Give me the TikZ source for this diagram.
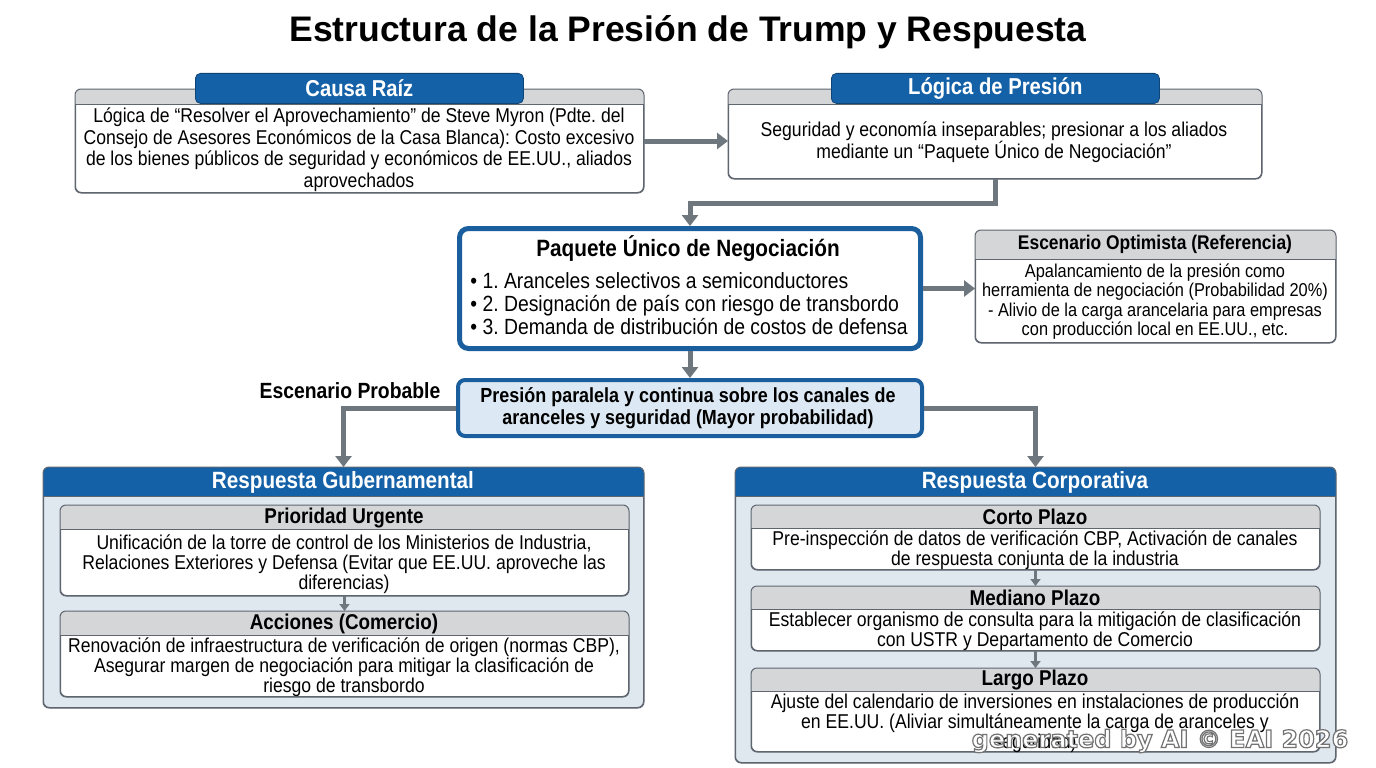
\documentclass[tikz,border=0pt]{standalone}
\usepackage{fontspec}
\setmainfont[FakeStretch=0.88]{Liberation Sans}
\newfontfamily\titlefont{Liberation Sans}
\newfontfamily\wmfont{DejaVu Sans}
\usetikzlibrary{arrows.meta}
\definecolor{hblue}{HTML}{1461A8}
\definecolor{bblue}{HTML}{1A5E9E}
\definecolor{agray}{HTML}{6E767E}
\definecolor{hgray}{HTML}{D5D6D8}
\definecolor{cfill}{HTML}{DFE7EF}
\definecolor{pfill}{HTML}{DCE8F3}
\definecolor{edgec}{HTML}{5F6670}
\newcommand\mkbox[6]{\node[frame, minimum width=#4pt, minimum height=#5pt, #6] (#1) at (#2,#3) {};}
\newcommand\hdrband[3]{%
  \begin{scope}\clip[rounded corners=6pt] (#1.north west) rectangle (#1.south east);
  \fill[#3] (#1.north west) rectangle ([yshift=-#2pt]#1.north east);\end{scope}
  \draw[edgec, line width=.6pt] ([yshift=-#2pt]#1.north west) -- ([yshift=-#2pt]#1.north east);
  \draw[edgec, line width=1pt, rounded corners=6pt] (#1.north west) rectangle (#1.south east);}
\begin{document}
\frenchspacing
\begin{tikzpicture}[x=1pt,y=-1pt,
  frame/.style={draw=edgec, line width=1pt, rounded corners=6pt, inner sep=0pt, anchor=north west, fill=white},
  tab/.style={fill=hblue, draw=hblue!70!black, line width=.8pt, rounded corners=5pt, text=white, inner sep=0pt, anchor=north west, font=\fontsize{23}{26}\bfseries\selectfont},
  arr/.style={draw=agray, line width=5pt, -{Triangle[length=11pt,width=16pt]}},
  sarr/.style={draw=agray, line width=3pt, -{Triangle[length=7pt,width=10pt]}},
  bodyA/.style={font=\fontsize{20}{21.5}\selectfont, align=center, inner sep=0pt},
  bodyS/.style={font=\fontsize{18.6}{19.5}\selectfont, align=center, inner sep=0pt},
  bodyG/.style={font=\fontsize{20}{20}\selectfont, align=center, inner sep=0pt},
  hdrW/.style={font=\fontsize{23.5}{26}\bfseries\selectfont, text=white, inner sep=0pt},
  hdrK/.style={font=\fontsize{21.4}{24}\bfseries\selectfont, inner sep=0pt},
]
\useasboundingbox (0,0) rectangle (1376,768);
\fill[white] (0,0) rectangle (1376,768);

% title
\node[font=\titlefont\fontsize{35.5}{40}\bfseries\selectfont] (title) at (688,32) {Estructura de la Presión de Trump y Respuesta};

% Causa raiz
\mkbox{causa}{75}{89}{568}{103}{}
\hdrband{causa}{15}{hgray}
\node[tab, minimum width=328pt, minimum height=30pt] (causaTab) at (195,73) {Causa Raíz};
\node[bodyA] (causaT) at (359,149.5) {Lógica de “Resolver el Aprovechamiento” de Steve Myron (Pdte. del\\Consejo de Asesores Económicos de la Casa Blanca): Costo excesivo\\de los bienes públicos de seguridad y económicos de EE.UU., aliados\\aprovechados};

% Logica de presion
\mkbox{logica}{728}{89}{533}{89}{}
\hdrband{logica}{15}{hgray}
\node[tab, minimum width=328pt, minimum height=30pt] (logicaTab) at (831,73) {Lógica de Presión};
\node[bodyA] (logicaT) at (994,142) {Seguridad y economía inseparables; presionar a los aliados\\mediante un “Paquete Único de Negociación”};

% Paquete
\node[frame, draw=bblue, line width=5pt, rounded corners=9pt, minimum width=461pt, minimum height=120pt] (paquete) at (457,226) {};
\node[font=\fontsize{23.6}{26}\bfseries\selectfont, inner sep=0pt] (paqT) at (688,249) {Paquete Único de Negociación};
\node[font=\fontsize{22}{23}\selectfont, align=left, inner sep=0pt] (paqB) at (689,304) {• 1. Aranceles selectivos a semiconductores\\• 2. Designación de país con riesgo de transbordo\\• 3. Demanda de distribución de costos de defensa};

% Optimista
\mkbox{opt}{975}{230}{360}{112}{}
\hdrband{opt}{29}{hgray}
\node[font=\fontsize{19.8}{22}\bfseries\selectfont, inner sep=0pt] (optH) at (1155,244.5) {Escenario Optimista (Referencia)};
\node[bodyS] (optT) at (1155,301.5) {Apalancamiento de la presión como\\herramienta de negociación (Probabilidad 20\%)\\- Alivio de la carga arancelaria para empresas\\con producción local en EE.UU., etc.};

% Presion paralela
\node[frame, fill=pfill, draw=bblue, line width=4pt, rounded corners=7pt, minimum width=464pt, minimum height=56pt] (presion) at (456,378) {};
\node[font=\fontsize{20.4}{22}\bfseries\selectfont, align=center, inner sep=0pt] (presT) at (688,408) {Presión paralela y continua sobre los canales de\\aranceles y seguridad (Mayor probabilidad)};
\node[font=\fontsize{22}{24}\bfseries\selectfont, inner sep=0pt] (probable) at (350,391) {Escenario Probable};

% Gobierno
\mkbox{gob}{43}{467}{600}{240}{fill=cfill}
\hdrband{gob}{29}{hblue}
\node[hdrW] (gobH) at (343,482) {Respuesta Gubernamental};
\mkbox{prio}{60}{505}{568}{90}{}
\hdrband{prio}{24}{hgray}
\node[hdrK] (prioH) at (344,518) {Prioridad Urgente};
\node[bodyG] (prioT) at (344,564) {Unificación de la torre de control de los Ministerios de Industria,\\Relaciones Exteriores y Defensa (Evitar que EE.UU. aproveche las\\diferencias)};
\mkbox{acc}{60}{611}{568}{85}{}
\hdrband{acc}{24}{hgray}
\node[hdrK] (accH) at (344,624) {Acciones (Comercio)};
\node[bodyG] (accT) at (344,667) {Renovación de infraestructura de verificación de origen (normas CBP),\\Asegurar margen de negociación para mitigar la clasificación de\\riesgo de transbordo};

% Corporativa
\mkbox{corp}{735}{467}{600}{295}{fill=cfill}
\hdrband{corp}{29}{hblue}
\node[hdrW] (corpH) at (1035,482) {Respuesta Corporativa};
\mkbox{corto}{751}{505}{568}{64}{}
\hdrband{corto}{23}{hgray}
\node[hdrK] (cortoH) at (1035,517) {Corto Plazo};
\node[bodyG] (cortoT) at (1035,550) {Pre-inspección de datos de verificación CBP, Activación de canales\\de respuesta conjunta de la industria};
\mkbox{med}{751}{586}{568}{64}{}
\hdrband{med}{23}{hgray}
\node[hdrK] (medH) at (1035,598) {Mediano Plazo};
\node[bodyG] (medT) at (1035,631) {Establecer organismo de consulta para la mitigación de clasificación\\con USTR y Departamento de Comercio};
\mkbox{largo}{751}{668}{568}{83}{}
\hdrband{largo}{23}{hgray}
\node[hdrK] (largoH) at (1035,680) {Largo Plazo};
\node[bodyG] (largoT) at (1035,723) {Ajuste del calendario de inversiones en instalaciones de producción\\en EE.UU. (Aliviar simultáneamente la carga de aranceles y\\seguridad)};

% connectors
\draw[arr] (causa.east) -- (causa.east -| logica.west);
\draw[arr] (logica.south) -- ++(0,24) -| (paquete.north);
\draw[arr] (paquete.east) -- (paquete.east -| opt.west);
\draw[arr] (paquete.south) -- (presion.north);
\draw[arr] (presion.west) -| (gob.north);
\draw[arr] (presion.east) -| (corp.north);
\draw[sarr] (prio.south) -- (acc.north);
\draw[sarr] (corto.south) -- (med.north);
\draw[sarr] (med.south) -- (largo.north);

% watermark (outlined text)
\node[font=\wmfont\fontsize{24}{26}\bfseries\selectfont, text=white, inner sep=0pt] (wm) at (1160,741) {\special{pdf:literal direct 2 Tr 1.2 w 0.45 G}generated by AI © EAI 2026\special{pdf:literal direct 0 Tr}};
\end{tikzpicture}
\end{document}
